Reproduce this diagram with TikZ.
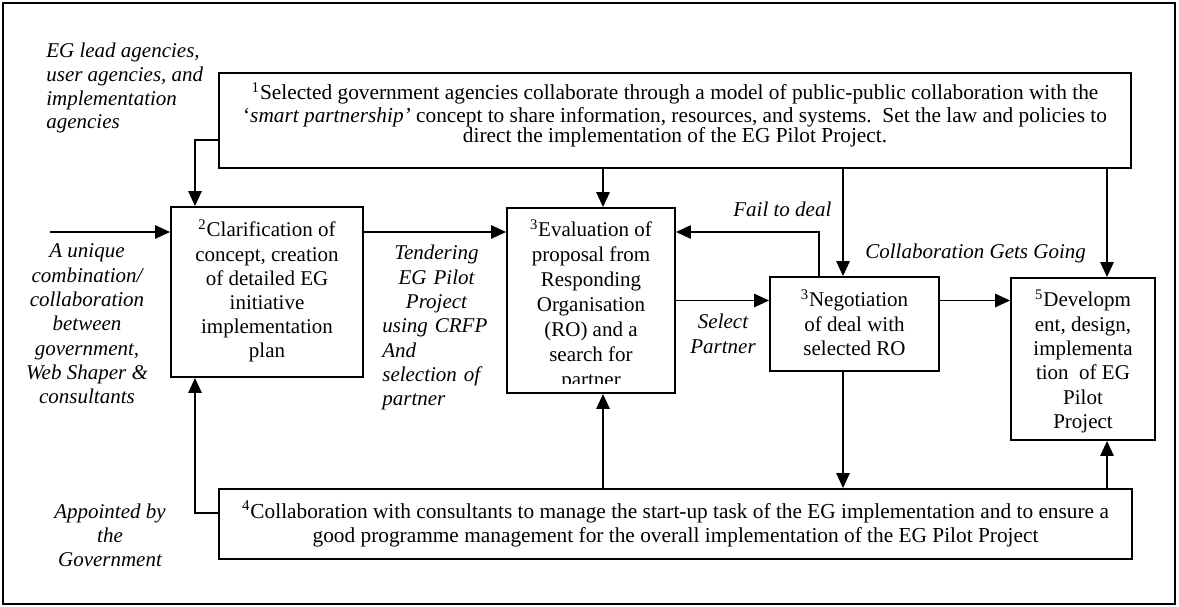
\documentclass[tikz,border=0pt]{standalone}
\usepackage{fontspec}
\setmainfont{Liberation Serif}
\usetikzlibrary{arrows.meta,calc}

\tikzset{
  box/.style={draw, line width=1.1pt, inner sep=0pt},
  boxtext/.style={anchor=north, inner sep=0pt, align=center},
  note/.style={inner sep=0pt, font=\itshape\fontsize{12.6}{14.6}\selectfont},
  link/.style={line width=1.1pt, -{Triangle[length=9pt,width=8pt]}}
}

\begin{document}
\begin{tikzpicture}[x=0.6pt, y=-0.6pt]
    \useasboundingbox (0,0) rectangle (1179,606);

    % Draw the outer frame
    \draw[line width=1.1pt] (3,3) rectangle (1175,604);

    % Draw the boxes
    \node[box, minimum width=547.2pt, minimum height=57pt] (share) at (675,120.5) {};
    \node[box, minimum width=115.2pt, minimum height=102pt] (clarify) at (267,292) {};
    \node[box, minimum width=100.8pt, minimum height=111pt] (evaluate) at (591,300.5) {};
    \node[box, minimum width=101.4pt, minimum height=56.4pt] (negotiate) at (854.5,324) {};
    \node[box, minimum width=86.4pt, minimum height=97.2pt] (develop) at (1083,359) {};
    \node[box, minimum width=547.8pt, minimum height=42pt] (manage) at (675.5,524) {};

    % Texts inside the boxes
    \node[boxtext, font=\fontsize{12.8}{12.3}\selectfont] (share-text) at (675,82.2)
        {\strut\textsuperscript{1}Selected government agencies collaborate through a model of public-public collaboration with the\\
         `\textit{smart partnership'} concept to share information, resources, and systems.\ \ Set the law and policies to\\
         direct the implementation of the EG Pilot Project.};
    \node[boxtext, font=\fontsize{12.6}{14.5}\selectfont] (clarify-text) at (267,219.6)
        {\strut\textsuperscript{2}Clarification of\\concept, creation\\of detailed EG\\initiative\\implementation\\plan};
    \begin{scope}
        \clip (evaluate.north west) rectangle ($(evaluate.south east)+(0,-10)$);
        \node[boxtext, font=\fontsize{12.6}{15}\selectfont] (evaluate-text) at (591,218.5)
            {\strut\textsuperscript{3}Evaluation of\\proposal from\\Responding\\Organisation\\(RO) and a\\search for\\partner};
    \end{scope}
    \node[boxtext, font=\fontsize{12.6}{14.7}\selectfont] (negotiate-text) at (854.5,289.3)
        {\strut\textsuperscript{3}Negotiation\\of deal with\\selected RO};
    \begin{scope}
        \clip (develop.north west) rectangle ($(develop.south east)+(0,-8)$);
        \node[boxtext, font=\fontsize{12.6}{14.6}\selectfont] (develop-text) at (1083,289.5)
            {\strut\textsuperscript{5}Developm\\ent, design,\\implementa\\tion\ \ of EG\\Pilot\\Project};
    \end{scope}
    \node[boxtext, font=\fontsize{12.8}{14.4}\selectfont] (manage-text) at (675.5,500.7)
        {\strut\textsuperscript{4}Collaboration with consultants to manage the start-up task of the EG implementation and to ensure a\\
         good programme management for the overall implementation of the EG Pilot Project};

    % Italic labels around the boxes
    \node[note, anchor=north west, align=left, font=\itshape\fontsize{12.6}{14.2}\selectfont] (lead) at (46,40.9)
        {\strut EG lead agencies,\\user agencies, and\\implementation\\agencies};
    \node[note, anchor=north, align=center] (unique) at (87,240.3)
        {\strut A unique\\combination/\\collaboration\\between\\government,\\Web Shaper \&\\consultants};
    \node[note, anchor=north west, text width=65pt] (tender) at (382,242.6)
        {{\centering\strut Tendering\\EG Pilot\\Project\par}\raggedright using CRFP\\And\\selection of\\partner};
    \node[note, anchor=north, align=center] (select) at (723,311.5) {\strut Select\\Partner};
    \node[note, anchor=base west] (fail) at (733,216.5) {Fail to deal};
    \node[note, anchor=base west] (going) at (865,258.8) {Collaboration Gets Going};
    \node[note, anchor=north, align=center] (appoint) at (110,500.9) {\strut Appointed by\\the\\Government};

    % Columns and rows used by the connectors
    \coordinate (in) at (50,232);
    \coordinate (lcol) at (195,0);
    \coordinate (ecol) at (603,0);
    \coordinate (fcol) at (819,0);
    \coordinate (ncol) at (843,0);
    \coordinate (dcol) at (1107,0);

    % Draw the connectors
    \draw[link] ($(share.west)+(0,19.5)$) -| (clarify.north -| lcol);
    \draw[link] (in) -- (in -| clarify.west);
    \draw[link] (in -| clarify.east) -- (in -| evaluate.west);
    \draw[link] (share.south -| ecol) -- (evaluate.north -| ecol);
    \draw[link] (negotiate.north -| fcol) |- (in -| evaluate.east);
    \draw[link] (share.south -| ncol) -- (negotiate.north -| ncol);
    \draw[link] (evaluate.east) -- (evaluate.east -| negotiate.west);
    \draw[link] (evaluate.east -| negotiate.east) -- (evaluate.east -| develop.west);
    \draw[link] (share.south -| dcol) -- (develop.north -| dcol);
    \draw[link] (negotiate.south -| ncol) -- (manage.north -| ncol);
    \draw[link] (manage.north -| dcol) -- (develop.south -| dcol);
    \draw[link] (manage.north -| ecol) -- (evaluate.south -| ecol);
    \draw[link] ($(manage.west)+(0,-11)$) -| (clarify.south -| lcol);
\end{tikzpicture}
\end{document}
